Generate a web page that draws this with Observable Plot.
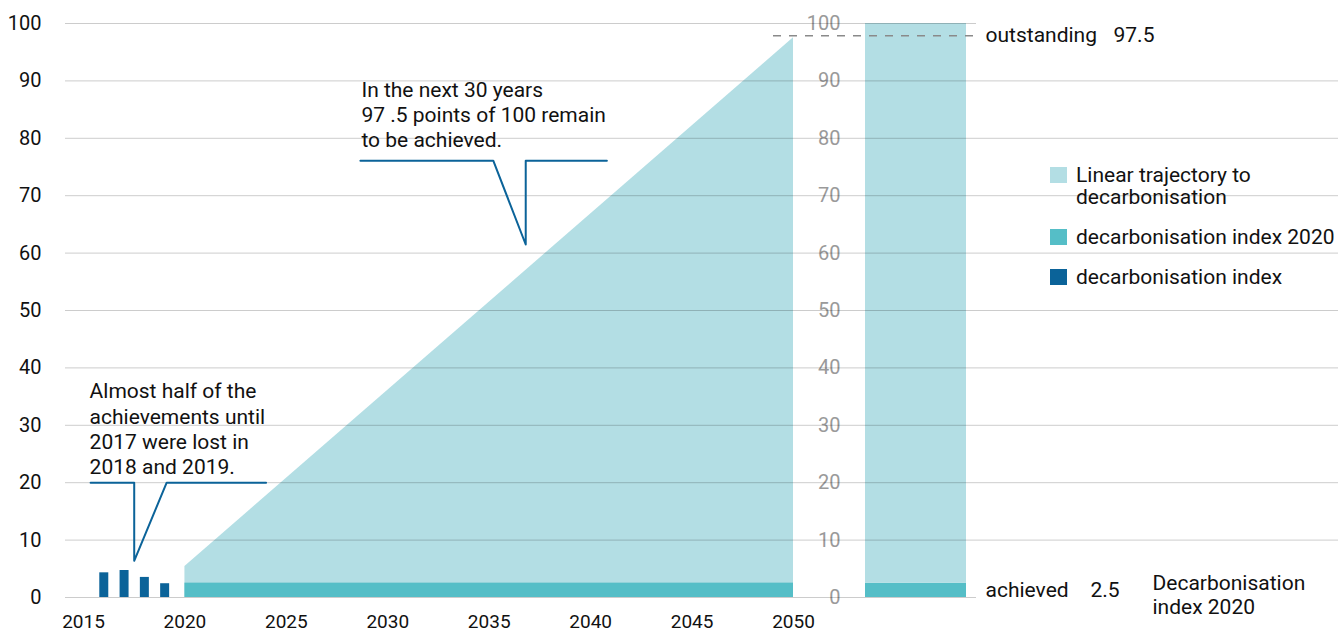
<!DOCTYPE html>
<html>
<head>
<meta charset="utf-8">
<script src="https://cdn.jsdelivr.net/npm/d3@7"></script>
<script src="https://cdn.jsdelivr.net/npm/@observablehq/plot@0.6"></script>
<style>
  body { margin: 0; background: #fff; font-family: Roboto, sans-serif; }
  #wrap { position: relative; width: 1338px; height: 632px; overflow: hidden; }
  #wrap svg { position: absolute; left: 0; top: 0; }
  .legend { position: absolute; left: 1050px; top: 164px; font-size: 21px; color: #111; line-height: 22px; white-space: nowrap; }
  .item { position: relative; padding-left: 26px; margin-bottom: 18px; }
  .sw { position: absolute; left: 0; top: 3px; width: 17px; height: 16px; }
</style>
</head>
<body>
<div id="wrap"></div>
<script>
// ---- data ----
const years = [2016, 2017, 2018, 2019];
const indexValues = [4.3, 4.7, 3.5, 2.4];
const trajYears = [2020, 2050];
const trajValues = [5.4, 97.5];
const index2020 = 2.5;
const outstanding = 97.5;
const xTicks = [2015, 2020, 2025, 2030, 2035, 2040, 2045, 2050];
const yTicks = [0, 10, 20, 30, 40, 50, 60, 70, 80, 90, 100];
const callout1X = [2015.35, 2017.5, 2017.5, 2019.1, 2024.0];
const callout1Y = [20, 20, 6.4, 20, 20];
const callout2X = [2028.65, 2035.2, 2036.8, 2036.8, 2040.8];
const callout2Y = [76.1, 76.1, 61.5, 76.1, 76.1];
const note1 = "Almost half of the\nachievements until\n2017 were lost in\n2018 and 2019.";
const note2 = "In the next 30 years\n97 .5 points of 100 remain\nto be achieved.";
const legendLabels = ["Linear trajectory to<br>decarbonisation", "decarbonisation index 2020", "decarbonisation index"];

const LIGHT = "#b3dee4", TEAL = "#55bec7", DARK = "#0b6399";

const bars = years.map((year, i) => ({year, value: indexValues[i]}));
const traj = trajYears.map((year, i) => ({year, value: trajValues[i]}));
const c1 = callout1X.map((x, i) => ({x, y: callout1Y[i]}));
const c2 = callout2X.map((x, i) => ({x, y: callout2Y[i]}));
const rightParts = [
  {part: "achieved", value: index2020},
  {part: "outstanding", value: +(100 - index2020).toFixed(1)}
];

const W = 1338, H = 632, MT = 23, MB = 35;
const baseStyle = {fontFamily: "Roboto, sans-serif", fontSize: "20px", color: "#111", background: "transparent", overflow: "visible"};
const TXT = 21;

// right panel (bottom layer)
const right = Plot.plot({
  width: W, height: H, marginLeft: 773, marginRight: 362, marginTop: MT, marginBottom: MB,
  style: baseStyle,
  x: {type: "band", domain: ["2020"], range: [865, 966], padding: 0, axis: null},
  y: {domain: [0, 100], axis: null},
  color: {domain: ["achieved", "outstanding"], range: [TEAL, LIGHT]},
  marks: [
    Plot.barY(rightParts, {x: () => "2020", y: "value", fill: "part"}),
    Plot.ruleY([outstanding], {stroke: "#8a8a8a", strokeWidth: 1.5, strokeDasharray: "8,8", dy: -2}),
    Plot.text(yTicks, {y: d => d, text: d => String(d), frameAnchor: "left", dx: 67, textAnchor: "end", fill: "#9a9a9a", fontSize: 20}),
    Plot.text([outstanding], {y: d => d, text: () => "outstanding", frameAnchor: "right", dx: 9, dy: -3, textAnchor: "start", fill: "#111", fontSize: TXT}),
    Plot.text([outstanding], {y: d => d, text: d => String(d), frameAnchor: "right", dx: 137, dy: -3, textAnchor: "start", fill: "#111", fontSize: TXT}),
    Plot.text([index2020], {y: d => d / 2, text: () => "achieved", frameAnchor: "right", dx: 9, textAnchor: "start", fill: "#111", fontSize: TXT}),
    Plot.text([index2020], {y: d => d / 2, text: d => String(d), frameAnchor: "right", dx: 114, textAnchor: "start", fill: "#111", fontSize: TXT}),
    Plot.text([0], {y: d => d, text: () => "Decarbonisation\nindex 2020", frameAnchor: "right", dx: 176, dy: -3, textAnchor: "start", lineAnchor: "middle", lineHeight: 1.15, fill: "#111", fontSize: TXT})
  ]
});

// main panel
const main = Plot.plot({
  width: W, height: H, marginLeft: 65, marginRight: 362, marginTop: MT, marginBottom: MB,
  style: baseStyle,
  x: {domain: [2015, 2050], range: [83, 793]},
  y: {domain: [0, 100]},
  marks: [
    Plot.areaY(traj, {x: "year", y: "value", fill: LIGHT}),
    Plot.rectY([index2020], {x1: () => trajYears[0], x2: () => trajYears[1], y1: 0, y2: d => d, fill: TEAL}),
    Plot.ruleX(bars, {x: "year", y1: 0, y2: "value", stroke: DARK, strokeWidth: 9}),
    Plot.ruleY(yTicks, {stroke: "#000", strokeOpacity: 0.2}),
    Plot.line(c1, {x: "x", y: "y", stroke: DARK, strokeWidth: 2, curve: "linear"}),
    Plot.line(c2, {x: "x", y: "y", stroke: DARK, strokeWidth: 2, curve: "linear"}),
    Plot.text([note1], {x: () => 2015.3, y: () => 37.8, text: d => d, textAnchor: "start", lineAnchor: "top", lineHeight: 1.2, fill: "#111", fontSize: TXT}),
    Plot.text([note2], {x: () => 2028.7, y: () => 90.4, text: d => d, textAnchor: "start", lineAnchor: "top", lineHeight: 1.2, fill: "#111", fontSize: TXT}),
    Plot.axisX({ticks: xTicks, tickFormat: "d", tickSize: 0, tickPadding: 17, label: null, fill: "#111", fontSize: 19}),
    Plot.axisY({ticks: yTicks, tickSize: 0, tickPadding: 24, label: null, fill: "#111"})
  ]
});

// grid extension (top layer)
const grid = Plot.plot({
  width: W, height: H, marginLeft: 976, marginRight: 0, marginTop: MT, marginBottom: MB,
  style: baseStyle,
  y: {domain: [0, 100], axis: null},
  marks: [
    Plot.ruleY(yTicks.filter(d => d > 0 && d < 100), {stroke: "#000", strokeOpacity: 0.2})
  ]
});

const wrap = document.getElementById("wrap");
wrap.append(right, main, grid);

// legend
const legend = document.createElement("div");
legend.className = "legend";
[LIGHT, TEAL, DARK].forEach((c, i) => {
  const it = document.createElement("div");
  it.className = "item";
  it.innerHTML = `<span class="sw" style="background:${c}"></span>${legendLabels[i]}`;
  legend.append(it);
});
wrap.append(legend);
</script>
</body>
</html>
